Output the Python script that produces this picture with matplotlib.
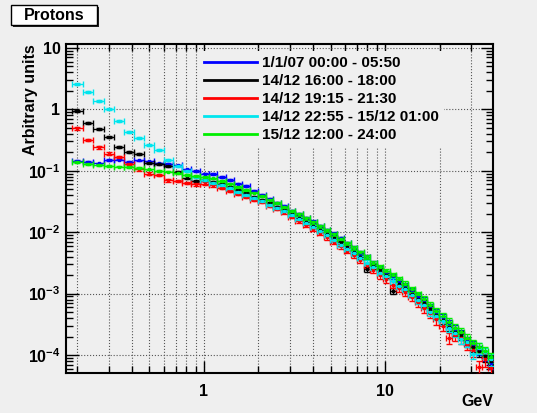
import numpy as np
import matplotlib
matplotlib.use('Agg')
import matplotlib.pyplot as plt
from matplotlib.lines import Line2D
from matplotlib.patches import Rectangle
from matplotlib.ticker import FixedLocator, FixedFormatter, LogLocator, NullFormatter

plt.rcParams['font.family'] = ['Liberation Sans', 'DejaVu Sans']
plt.rcParams['font.weight'] = 'bold'
plt.rcParams['mathtext.fontset'] = 'custom'
plt.rcParams['mathtext.rm'] = 'Liberation Sans:bold'
plt.rcParams['mathtext.bf'] = 'Liberation Sans:bold'

# bin centres (kinetic energy, GeV)
energy = [0.1998, 0.2288, 0.2616, 0.2987, 0.3404, 0.3873, 0.4396, 0.4981, 0.5631, 0.6354,
          0.7151, 0.8033, 0.9005, 1.0072, 1.1242, 1.2523, 1.3922, 1.5448, 1.7111, 1.8920,
          2.0885, 2.3018, 2.5333, 2.7840, 3.0555, 3.3492, 3.6670, 4.0104, 4.3816, 4.7826,
          5.2155, 5.6830, 6.1875, 6.7320, 7.3194, 7.9530, 8.6366, 9.3740, 10.169, 11.026,
          11.950, 12.947, 14.021, 15.179, 16.427, 17.773, 19.224, 20.787, 22.473, 24.289,
          26.247, 28.357, 30.631, 33.082, 35.724, 38.571]

flux_0101 = [0.145, 0.140, 0.132, 0.150, 0.152, 0.140, 0.148, 0.142, 0.132, 0.130, 0.122, 0.105, 0.100,
             0.090, 0.088, 0.079, 0.071, 0.062, 0.056, 0.047, 0.041, 0.035, 0.030, 0.0265, 0.0225,
             0.0198, 0.0170, 0.0148, 0.0127, 0.0108, 0.0094, 0.0080, 0.0066, 0.0056, 0.0046, 0.0039, 0.0032, 0.0026,
             0.0022, 0.0019, 0.0016, 0.00138, 0.00113, 0.00093, 0.00078, 0.00062, 0.00050, 0.00041,
             0.00033, 0.00027, 0.00022, 0.00017, 0.000145, 0.000120, 0.000098, 0.000073]

flux_1416 = [0.95, 0.60, 0.48, 0.36, 0.24, 0.20, 0.185, 0.135, 0.13, 0.12, 0.094, 0.075, 0.068,
             0.070, 0.066, 0.060, 0.055, 0.048, 0.043, 0.038, 0.034, 0.030, 0.026, 0.023, 0.020,
             0.0172, 0.0148, 0.0128, 0.0110, 0.0094, 0.0080, 0.0068, 0.0058, 0.0048, 0.0040, 0.0025, 0.0028, 0.0024,
             0.0020, 0.0011, 0.00145, 0.00125, 0.00100, 0.00083, 0.00070, 0.00056, 0.00045, 0.00037,
             0.00029, 0.00024, 0.00021, 0.00016, 0.000135, 0.000115, 0.000098, 0.000080]

flux_1419 = [0.49, 0.32, 0.24, 0.19, 0.166, 0.13, 0.105, 0.090, 0.085, 0.070, 0.068, 0.064, 0.060,
             0.062, 0.058, 0.052, 0.047, 0.042, 0.038, 0.034, 0.031, 0.027, 0.024, 0.021, 0.018,
             0.0152, 0.0130, 0.0112, 0.0096, 0.0082, 0.0070, 0.0059, 0.0050, 0.0042, 0.0035, 0.0029, 0.0024, 0.0020,
             0.0017, 0.0014, 0.00125, 0.00105, 0.00088, 0.00072, 0.00058, 0.00048, 0.00038, 0.00030,
             0.00019, 0.00021, 0.00019, 0.00015, 0.00012, 0.000065, 0.000085, 0.000062]

flux_1422 = [2.59, 1.94, 1.38, 1.01, 0.64, 0.43, 0.34, 0.26, 0.22, 0.15, 0.12, 0.10, 0.080,
             0.072, 0.064, 0.058, 0.052, 0.045, 0.040, 0.036, 0.032, 0.028, 0.025, 0.022, 0.0190,
             0.0165, 0.0142, 0.0122, 0.0105, 0.0090, 0.0075, 0.0063, 0.0054, 0.0045, 0.0038, 0.0032, 0.0027, 0.0022,
             0.0019, 0.0016, 0.00135, 0.00118, 0.00095, 0.00078, 0.00065, 0.00050, 0.00044, 0.00036,
             0.00028, 0.00023, 0.00018, 0.00016, 0.000105, 0.000130, 0.000110, 0.000085]

flux_1512 = [0.140, 0.130, 0.124, 0.120, 0.117, 0.114, 0.110, 0.105, 0.100, 0.097, 0.091, 0.086, 0.083,
             0.080, 0.075, 0.068, 0.062, 0.055, 0.049, 0.044, 0.039, 0.034, 0.030, 0.026, 0.0225,
             0.0195, 0.0168, 0.0145, 0.0125, 0.0107, 0.0092, 0.0078, 0.0066, 0.0055, 0.0047, 0.0039, 0.0032, 0.0027,
             0.0023, 0.0020, 0.0017, 0.00145, 0.00118, 0.00097, 0.00082, 0.00066, 0.00052, 0.00043,
             0.00035, 0.00028, 0.00024, 0.00019, 0.000155, 0.000135, 0.000115, 0.000092]

# relative statistical error per bin
rel_err = [0.03] * 21 + [0.035, 0.035, 0.04, 0.04, 0.045, 0.045, 0.05, 0.05, 0.055, 0.055,
                          0.06, 0.06, 0.065, 0.07, 0.07, 0.075, 0.08, 0.08, 0.085, 0.09,
                          0.09, 0.10, 0.10, 0.11, 0.11, 0.12, 0.12, 0.13, 0.13, 0.14,
                          0.14, 0.15, 0.16, 0.17, 0.18]

labels = ['1/1/07 00:00 - 05:50', '14/12 16:00 - 18:00', '14/12 19:15 - 21:30',
          '14/12 22:55 - 15/12 01:00', '15/12 12:00 - 24:00']
series = [flux_0101, flux_1416, flux_1419, flux_1422, flux_1512]
colors = ['#0000ff', '#000000', '#ff0000', '#00e5ee', '#00ee00']
err_scale = [1.0, 1.2, 1.5, 1.2, 1.0]

bg = '#efefef'
fig = plt.figure(figsize=(5.37, 4.13), dpi=100, facecolor=bg)
ax = fig.add_axes([0.1229, 0.0969, 0.7952, 0.7966], facecolor=bg)

x = np.array(energy)
edges_mid = np.sqrt(x[1:] * x[:-1])
lo = np.concatenate([[x[0] ** 2 / edges_mid[0]], edges_mid])
hi = np.concatenate([edges_mid, [x[-1] ** 2 / edges_mid[-1]]])
xerr = [x - lo, hi - x]

for y, c, k in zip(series, colors, err_scale):
    y = np.array(y)
    yerr = y * np.array(rel_err) * k
    ax.errorbar(x, y, xerr=xerr, yerr=yerr, fmt='s', ms=2, color=c, ecolor=c,
                elinewidth=1, capsize=2, capthick=1, zorder=3)

ax.set_xscale('log')
ax.set_yscale('log')
ax.set_xlim(0.173, 39.5)
ax.set_ylim(5.1e-5, 11.6)

ax.xaxis.set_major_locator(FixedLocator([1, 10]))
ax.xaxis.set_major_formatter(FixedFormatter(['1', '10']))
ax.xaxis.set_minor_locator(LogLocator(base=10, subs=np.arange(2, 10), numticks=20))
ax.xaxis.set_minor_formatter(NullFormatter())
ydec = [1e-4, 1e-3, 1e-2, 1e-1, 1, 10]
ax.yaxis.set_major_locator(FixedLocator(ydec))
ax.yaxis.set_major_formatter(FixedFormatter([r'$10^{-4}$', r'$10^{-3}$', r'$10^{-2}$',
                                             r'$10^{-1}$', '1', '10']))
ax.yaxis.set_minor_locator(LogLocator(base=10, subs=np.arange(2, 10), numticks=20))
ax.yaxis.set_minor_formatter(NullFormatter())

ax.grid(True, which='both', axis='x', ls=':', color='#555555', lw=0.8, zorder=0)
ax.grid(True, which='major', axis='y', ls=':', color='#555555', lw=0.8, zorder=0)
ax.set_axisbelow(True)

ax.tick_params(which='both', direction='in', top=True, right=True, width=1, labelsize=11.5)
ax.tick_params(which='major', length=9)
ax.tick_params(which='minor', length=5)
ax.tick_params(axis='x', pad=8)
ax.tick_params(axis='y', pad=4)
for s in ax.spines.values():
    s.set_linewidth(1.5)

ax.set_ylabel('Arbitrary units', loc='top', fontsize=11.5, fontweight='bold')
ax.yaxis.set_label_coords(-0.084, 1.0)
ax.yaxis.label.set_va('center')
ax.set_xlabel('GeV', loc='right', fontsize=11.5, fontweight='bold')
ax.xaxis.set_label_coords(1.0, -0.088)
ax.xaxis.label.set_va('center')

handles = [Line2D([], [], color=c, lw=2) for c in colors]
leg = ax.legend(handles, labels, loc='upper left', bbox_to_anchor=(0.31, 0.98),
                frameon=True, facecolor=bg, edgecolor='none', framealpha=1, fancybox=False,
                borderaxespad=0, borderpad=0.35, handlelength=3.5, handletextpad=0.3,
                labelspacing=0.27, prop={'size': 11, 'weight': 'bold'})
leg.set_zorder(5)

# title box with shadow
fig.patches.append(Rectangle((13 / 537, 1 - 27 / 413), 86 / 537, 20 / 413,
                             transform=fig.transFigure, facecolor='#222222', edgecolor='none'))
fig.patches.append(Rectangle((11 / 537, 1 - 25 / 413), 86 / 537, 20 / 413,
                             transform=fig.transFigure, facecolor='white', edgecolor='black', lw=1))
fig.text(54 / 537, 1 - 15 / 413, 'Protons', ha='center', va='center', fontsize=11.5,
         fontweight='bold')

fig.savefig('out.png', dpi=100, facecolor=bg)
